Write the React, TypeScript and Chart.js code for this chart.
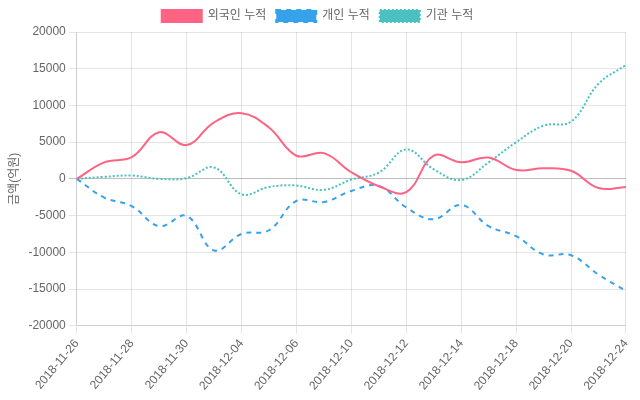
import React, { useEffect, useRef } from "react";
import { Chart, registerables } from "chart.js";

Chart.register(...registerables);

const dates = [
  "2018-11-26", "2018-11-27", "2018-11-28", "2018-11-29", "2018-11-30",
  "2018-12-03", "2018-12-04", "2018-12-05", "2018-12-06", "2018-12-07",
  "2018-12-10", "2018-12-11", "2018-12-12", "2018-12-13", "2018-12-14",
  "2018-12-17", "2018-12-18", "2018-12-19", "2018-12-20", "2018-12-21",
  "2018-12-24",
];

const foreignCum = [
  0, 2250, 2950, 6350, 4600, 7700, 8950, 7000, 3150, 3500,
  900, -1000, -1800, 3150, 2250, 2900, 1200, 1450, 1100, -1250, -1100,
];

const individualCum = [
  0, -2550, -3700, -6450, -5050, -9750, -7500, -7000, -3000, -3150,
  -1650, -950, -3900, -5500, -3550, -6450, -7800, -10300, -10400, -13050, -15250,
];

const institutionCum = [
  0, 270, 450, 0, 100, 1550, -2100, -1100, -900, -1500,
  -100, 850, 4000, 1300, -150, 2250, 5000, 7250, 7800, 12950, 15500,
];

const seriesNames = ["외국인 누적", "개인 누적", "기관 누적"];
const yTitle = "금액(억원)";

export default function App() {
  const ref = useRef<HTMLCanvasElement | null>(null);

  useEffect(() => {
    document.body.style.margin = "0";
    Chart.defaults.font.family = "'Helvetica Neue', Helvetica, Arial, 'Liberation Sans', 'Noto Sans CJK KR', sans-serif";
    Chart.defaults.font.size = 12;
    Chart.defaults.color = "#666";
    const common = {
      borderWidth: 2,
      fill: false,
      pointRadius: 0,
      tension: 0.4,
    };
    const chart = new Chart(ref.current!, {
      type: "line",
      data: {
        labels: dates,
        datasets: [
          {
            ...common,
            label: seriesNames[0],
            data: foreignCum,
            borderColor: "rgb(255, 99, 132)",
            backgroundColor: "rgb(255, 99, 132)",
          },
          {
            ...common,
            label: seriesNames[1],
            data: individualCum,
            borderColor: "rgb(54, 162, 235)",
            backgroundColor: "rgb(54, 162, 235)",
            borderDash: [5, 5],
          },
          {
            ...common,
            label: seriesNames[2],
            data: institutionCum,
            borderColor: "rgb(75, 192, 192)",
            backgroundColor: "rgb(75, 192, 192)",
            borderDash: [2, 2],
          },
        ],
      },
      options: {
        animation: false,
        responsive: false,
        maintainAspectRatio: false,
        layout: { padding: { left: 3, right: 8, bottom: 4 } },
        plugins: {
          legend: {
            position: "top",
            labels: { boxWidth: 40, color: "#666" },
          },
          tooltip: { enabled: false },
        },
        scales: {
          x: {
            grid: { color: "rgba(0,0,0,0.1)" },
            afterBuildTicks: (scale: any) => {
              scale.ticks = scale.ticks.filter((_t: any, i: number) => i % 2 === 0);
            },
            ticks: {
              autoSkip: false,
              maxRotation: 50,
              minRotation: 50,
              color: "#666",
            },
          },
          y: {
            min: -20000,
            max: 20000,
            ticks: {
              stepSize: 5000,
              color: "#666",
              callback: (v: any) => String(v),
            },
            grid: {
              color: (ctx: any) =>
                ctx.tick && ctx.tick.value === 0 ? "rgba(0,0,0,0.25)" : "rgba(0,0,0,0.1)",
            },
            title: { display: true, text: yTitle, color: "#666" },
          },
        },
      },
    });
    return () => chart.destroy();
  }, []);

  return (
    <div style={{ width: 640, height: 400 }}>
      <canvas ref={ref} width={640} height={400} />
    </div>
  );
}
